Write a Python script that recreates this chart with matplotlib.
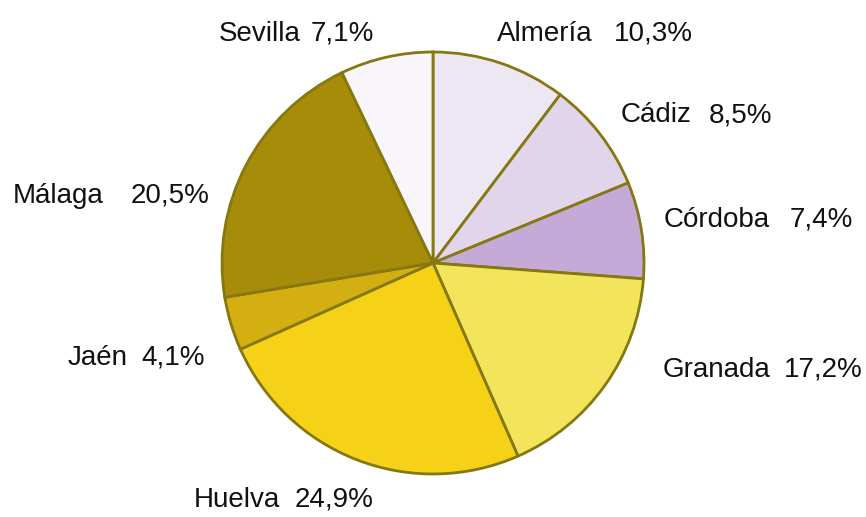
import matplotlib.pyplot as plt

# Distribución por provincias (%)
provincias = ['Almería', 'Cádiz', 'Córdoba', 'Granada', 'Huelva', 'Jaén', 'Málaga', 'Sevilla']
porcentajes = [10.3, 8.5, 7.4, 17.2, 24.9, 4.1, 20.5, 7.1]
colores = ['#EDE6F3', '#E1D5EC', '#C5AAD8', '#F2E55C', '#F5D217', '#D4AF12', '#A68C08', '#F8F6FB']

W, H = 866, 517
fig = plt.figure(figsize=(W / 100, H / 100), dpi=100)
ax = fig.add_axes([0, 0, 1, 1])

ax.pie(porcentajes, colors=colores, startangle=90, counterclock=False,
       center=(433, H - 263), radius=211, frame=True,
       wedgeprops=dict(edgecolor='#857810', linewidth=2.0))
ax.set_xlim(0, W)
ax.set_ylim(0, H)
ax.set_aspect('equal')
ax.axis('off')

# posiciones de las etiquetas en píxeles: (x nombre, x fin porcentaje, línea base)
pos = {
    'Sevilla': (219, 374, 41),
    'Almería': (497, 693, 41),
    'Cádiz': (621, 772, 122),
    'Córdoba': (664, 853, 227),
    'Granada': (663, 863, 377),
    'Huelva': (194, 373, 507),
    'Jaén': (68, 205, 365),
    'Málaga': (13, 209, 203),
}

fuente = ['Liberation Sans', 'DejaVu Sans']
for nombre, p in zip(provincias, porcentajes):
    x0, x1, yb = pos[nombre]
    ax.text(x0, H - yb, nombre, ha='left', va='baseline', fontsize=20,
            family=fuente, color='#111111')
    ax.text(x1, H - yb, f'{p:.1f}%'.replace('.', ','), ha='right', va='baseline',
            fontsize=20, family=fuente, color='#111111')

fig.savefig('out.png', dpi=100)
